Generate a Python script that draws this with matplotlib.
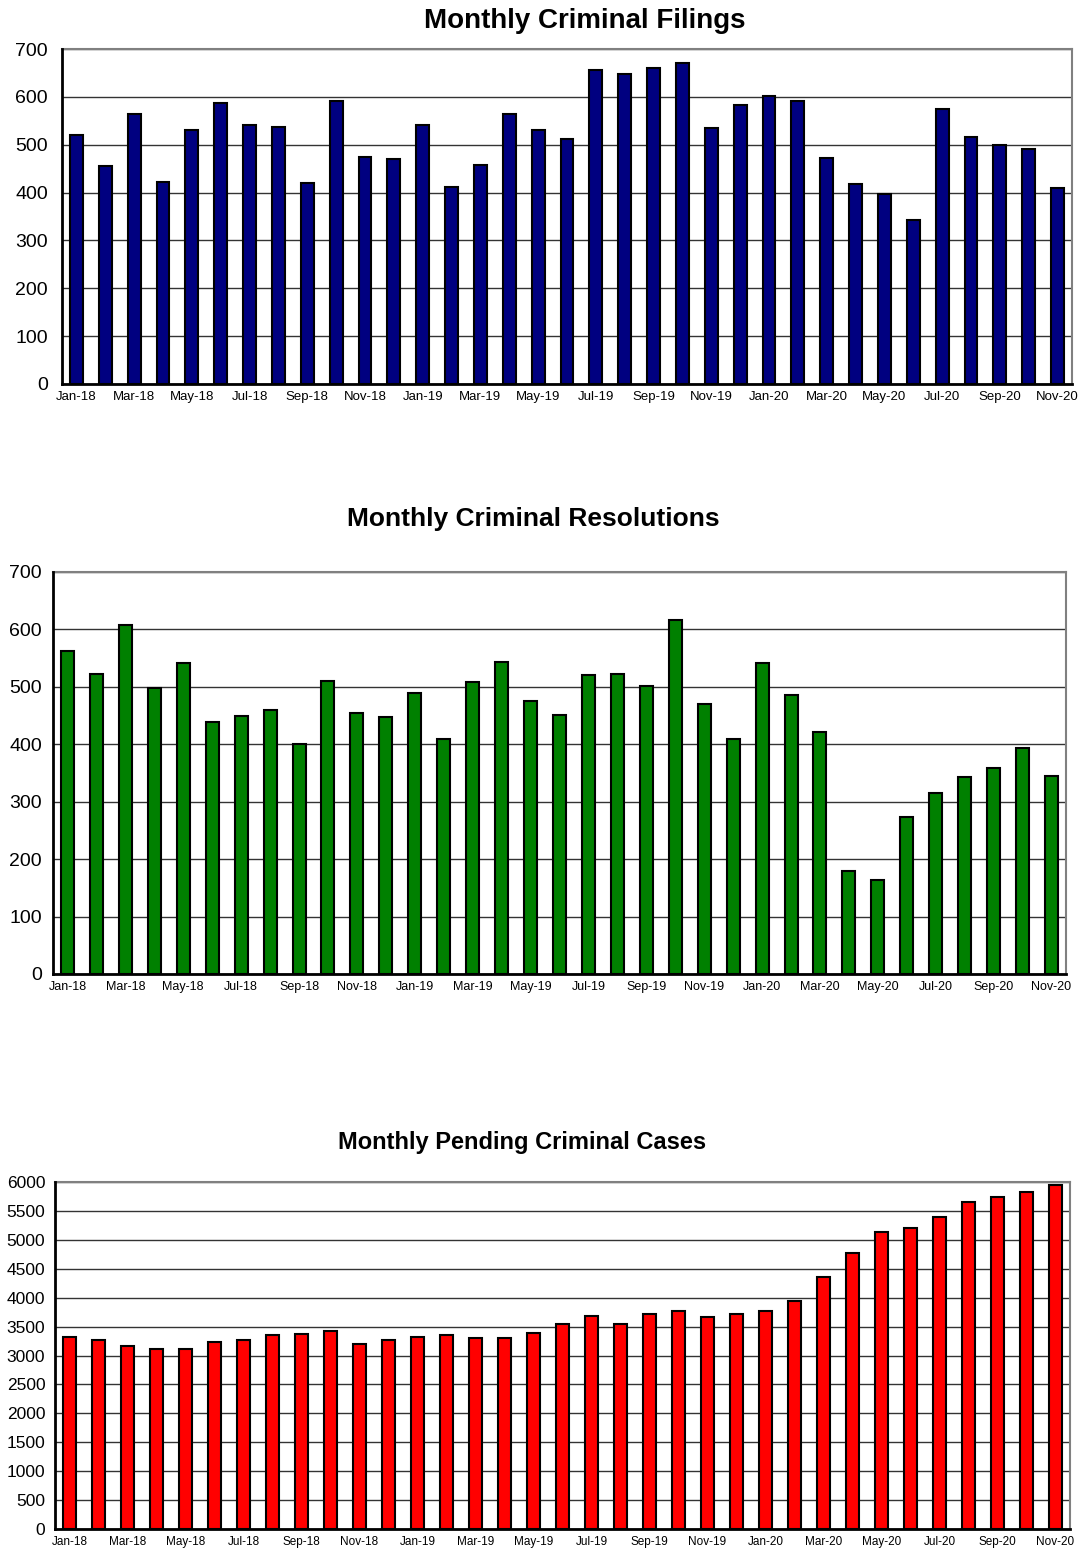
import matplotlib
matplotlib.use("Agg")
import matplotlib.pyplot as plt
import numpy as np

plt.rcParams['font.family'] = ['Liberation Sans', 'DejaVu Sans']

months = ["Jan-18", "Feb-18", "Mar-18", "Apr-18", "May-18", "Jun-18", "Jul-18", "Aug-18",
          "Sep-18", "Oct-18", "Nov-18", "Dec-18", "Jan-19", "Feb-19", "Mar-19", "Apr-19",
          "May-19", "Jun-19", "Jul-19", "Aug-19", "Sep-19", "Oct-19", "Nov-19", "Dec-19",
          "Jan-20", "Feb-20", "Mar-20", "Apr-20", "May-20", "Jun-20", "Jul-20", "Aug-20",
          "Sep-20", "Oct-20", "Nov-20"]

filings = [520, 455, 565, 422, 530, 587, 541, 536, 420, 592, 475, 471,
           541, 411, 457, 565, 530, 512, 657, 647, 661, 671, 534, 584,
           601, 592, 473, 418, 398, 343, 575, 517, 500, 491, 409]

resolutions = [563, 522, 608, 498, 541, 438, 449, 460, 401, 510, 455, 447,
               490, 410, 509, 543, 476, 451, 520, 523, 502, 616, 470, 410,
               541, 486, 422, 179, 163, 273, 315, 343, 359, 393, 345]

pending = [3325, 3268, 3170, 3118, 3118, 3228, 3268, 3360, 3377, 3423, 3205, 3268,
           3325, 3349, 3303, 3303, 3389, 3544, 3682, 3544, 3723, 3763, 3671, 3723,
           3763, 3941, 4350, 4776, 5138, 5213, 5391, 5656, 5748, 5834, 5949]

W, H = 1081, 1552
fig = plt.figure(figsize=(W / 100, H / 100), dpi=100)


def make_axes(px_left, px_right, px_top, px_bottom):
    return fig.add_axes([px_left / W, 1 - px_bottom / H,
                         (px_right - px_left) / W, (px_bottom - px_top) / H])


def draw(ax, values, color, ymax, ystep, ytick_fs, xtick_fs, ypad):
    x = np.arange(len(values))
    ax.set_axisbelow(True)
    ax.bar(x, values, width=0.45, color=color, edgecolor='black', linewidth=1.5, zorder=3)
    ax.set_xlim(-0.5, len(values) - 0.5)
    ax.set_ylim(0, ymax)
    ax.set_yticks(np.arange(0, ymax + 1, ystep))
    ax.set_xticks(x[::2])
    ax.set_xticklabels(months[::2], fontsize=xtick_fs)
    ax.tick_params(axis='y', labelsize=ytick_fs, length=0, pad=ypad)
    ax.tick_params(axis='x', length=0, pad=5)
    ax.yaxis.grid(True, color='#333333', linewidth=1.0, zorder=0)
    for s in ['top', 'right']:
        ax.spines[s].set_color('#808080')
        ax.spines[s].set_linewidth(1.5)
    for s in ['left', 'bottom']:
        ax.spines[s].set_color('black')
        ax.spines[s].set_linewidth(2.0)
        ax.spines[s].set_zorder(4)


ax1 = make_axes(62, 1072, 49, 384)
draw(ax1, filings, '#000080', 700, 100, 14, 9.5, 10)
fig.text(585 / W, 1 - 21 / H, "Monthly Criminal Filings", ha='center', va='center',
         fontsize=20, fontweight='bold')

ax2 = make_axes(53, 1066, 572, 974)
draw(ax2, resolutions, '#008000', 700, 100, 14, 9, 8)
fig.text(533 / W, 1 - 519 / H, "Monthly Criminal Resolutions", ha='center', va='center',
         fontsize=19, fontweight='bold')

ax3 = make_axes(55, 1070, 1182, 1529)
draw(ax3, pending, '#FF0000', 6000, 500, 12.5, 8.5, 7)
fig.text(522 / W, 1 - 1142 / H, "Monthly Pending Criminal Cases", ha='center', va='center',
         fontsize=17, fontweight='bold')

fig.savefig("out.png", dpi=100)
